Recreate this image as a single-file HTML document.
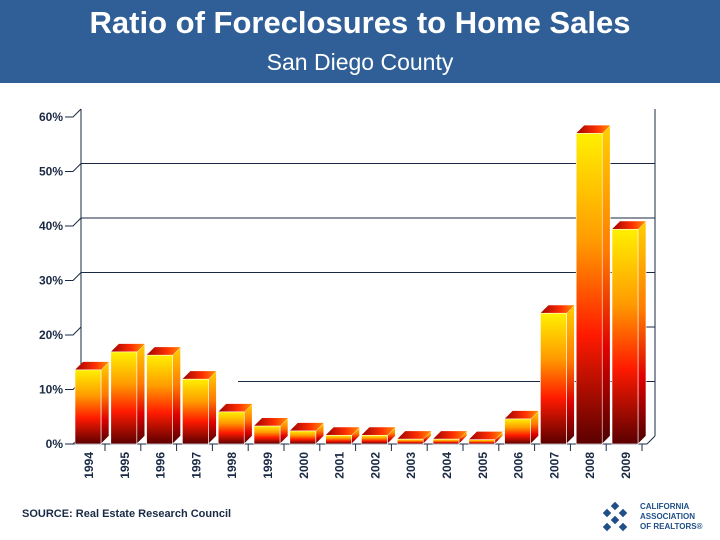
<!DOCTYPE html>
<html><head><meta charset="utf-8"><style>
body{margin:0;width:720px;height:540px;background:#fff;font-family:"Liberation Sans",sans-serif;overflow:hidden;position:relative}
#hdr{position:absolute;left:0;top:0;width:720px;height:83px;background:#2f5f96}
#t{position:absolute;top:5px;width:720px;text-align:center;color:#fff;font-weight:bold;font-size:31px}
#s{position:absolute;top:49px;width:720px;text-align:center;color:#fff;font-size:23px}
#src{position:absolute;left:22px;top:508px;font-size:11px;font-weight:bold;color:#1a2a44}
</style></head><body>
<div id="hdr">
<div id="t">Ratio of Foreclosures to Home Sales</div>
<div id="s">San Diego County</div></div>
<svg id="c" width="720" height="540" style="position:absolute;left:0;top:0">
<defs>
<linearGradient id="gf" x1="0" y1="0" x2="0" y2="1"><stop offset="0" stop-color="#fff000"/><stop offset="0.35" stop-color="#ff9a00"/><stop offset="0.65" stop-color="#ff1a00"/><stop offset="1" stop-color="#5a0000"/></linearGradient>
<linearGradient id="gs" x1="0" y1="0" x2="0" y2="1"><stop offset="0" stop-color="#ffd000"/><stop offset="0.4" stop-color="#ff7a00"/><stop offset="0.7" stop-color="#e00000"/><stop offset="1" stop-color="#4a0000"/></linearGradient>
<linearGradient id="gt" x1="0" y1="0" x2="1" y2="0"><stop offset="0" stop-color="#a00000"/><stop offset="0.6" stop-color="#ff3000"/><stop offset="1" stop-color="#ff9000"/></linearGradient>
</defs>
<g id="axes"></g><g id="bars"></g>
<g>
<g fill="#1f4f86"><rect x="612" y="503" width="6" height="6" transform="rotate(45 615 506)"/><rect x="620" y="510" width="6" height="6" transform="rotate(45 623 513)"/><rect x="612" y="517" width="6" height="6" transform="rotate(45 615 520)"/><rect x="604" y="510" width="6" height="6" transform="rotate(45 607 513)"/><rect x="620" y="524" width="6" height="6" transform="rotate(45 623 527)"/><rect x="604" y="524" width="6" height="6" transform="rotate(45 607 527)"/></g>
<text x="640" y="509" font-size="8" font-weight="bold" fill="#1f4f86">CALIFORNIA</text>
<text x="640" y="519" font-size="8" font-weight="bold" fill="#1f4f86">ASSOCIATION</text>
<text x="640" y="529" font-size="8" font-weight="bold" fill="#1f4f86">OF REALTORS®</text></g>
</svg>
<div id="src">SOURCE: Real Estate Research Council</div>
<script>
const years=["1994","1995","1996","1997","1998","1999","2000","2001","2002","2003","2004","2005","2006","2007","2008","2009"];
const values=[13.6,16.9,16.3,11.9,5.9,3.3,2.4,1.6,1.6,0.9,0.9,0.8,4.6,24,57,39.4];
const ticks=[0,10,20,30,40,50,60];
const NS="http://www.w3.org/2000/svg";
const y0=444,k=5.45,dx=8,dy=8,x0=75,pitch=35.8,bw=26;
const y=v=>y0-v*k;
function mk(t,a,p){const e=document.createElementNS(NS,t);for(const q in a)e.setAttribute(q,a[q]);p.appendChild(e);return e;}
const ax=document.getElementById('axes'),bs=document.getElementById('bars');
ticks.forEach(t=>{
 if(t>0&&t!==60){
  const gx=t===20?645:(t===10?238:81);
  const l=mk('line',{x1:gx,x2:655,y1:y(t)-dy,y2:y(t)-dy,stroke:'#1a2a44','stroke-width':1},ax);
  
  
 }
 mk('polyline',{points:`65,${y(t)} 73,${y(t)} 81,${y(t)-dy}`,fill:'none',stroke:'#1a2a44'},ax);
 const tx=mk('text',{x:63,y:y(t)+4,'text-anchor':'end','font-size':12,'font-weight':'bold',fill:'#1a2a44'},ax);
 tx.textContent=t+'%';
 
 
});
mk('line',{x1:81,x2:81,y1:y(60)-dy,y2:y0-dy,stroke:'#1a2a44'},ax);
mk('line',{x1:655,x2:655,y1:y(60)-dy,y2:y0-dy,stroke:'#1a2a44'},ax);
mk('line',{x1:73,x2:647,y1:y0,y2:y0,stroke:'#1a2a44'},ax);
mk('line',{x1:647,x2:655,y1:y0,y2:y0-dy,stroke:'#1a2a44'},ax);
values.forEach((v,i)=>{
 const x=x0+i*pitch,top=y(v);
 const g=mk('g',{},bs);
 
 
 mk('polygon',{points:`${x+bw},${top} ${x+bw+dx},${top-dy} ${x+bw+dx},${y0-dy} ${x+bw},${y0}`,fill:'url(#gs)',stroke:'#fff','stroke-width':0.6},g);
 mk('polygon',{points:`${x},${top} ${x+dx},${top-dy} ${x+bw+dx},${top-dy} ${x+bw},${top}`,fill:'url(#gt)'},g);
 mk('rect',{x:x,y:top,width:bw,height:y0-top,fill:'url(#gf)',stroke:'#fff','stroke-width':0.6},g);
 mk('line',{x1:x+bw+4,x2:x+bw+4,y1:y0,y2:y0+7,stroke:'#1a2a44'},ax);
 const tx=mk('text',{transform:`translate(${x+bw/2+5},452) rotate(-90)`,'text-anchor':'end','font-size':12,'font-weight':'bold',fill:'#1a2a44'},ax);
 tx.textContent=years[i];
 
 
});
</script>
</body></html>
